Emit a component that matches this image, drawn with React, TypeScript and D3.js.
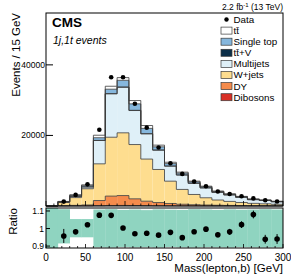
import * as d3 from 'd3';

// bin edges in GeV (15 GeV bins)
const edges = d3.range(0, 301, 15);

// stacked backgrounds, bottom to top
const dibosons = [0, 20, 30, 40, 100, 150, 160, 140, 110, 80, 60, 45, 35, 25, 20, 15, 12, 10, 8, 6];
const dy = [0, 80, 150, 250, 1450, 2650, 2800, 1900, 1250, 900, 650, 450, 330, 250, 190, 150, 120, 90, 75, 60];
const wjets = [0, 900, 2200, 4600, 10400, 16690, 17780, 15380, 11940, 9370, 6330, 4200, 2900, 2055, 1490, 1135, 868, 650, 537, 414];
const multijets = [0, 150, 350, 500, 6610, 12300, 12920, 9640, 7150, 5480, 4260, 4080, 3165, 2795, 2168, 1840, 1472, 1049, 935, 726];
const ttv = [0, 5, 10, 10, 40, 60, 70, 60, 50, 40, 30, 25, 20, 15, 12, 10, 8, 6, 5, 4];
const singleTop = [0, 60, 250, 350, 750, 1250, 1890, 1830, 1500, 900, 680, 500, 380, 300, 230, 190, 150, 120, 100, 80];
const ttbar = [0, 85, 210, 250, 710, 840, 760, 940, 810, 480, 390, 300, 220, 180, 140, 110, 90, 75, 60, 50];

const data = [0, 1245, 3140, 6130, 21590, 36490, 36500, 29000, 22200, 16600, 12130, 9100, 6920, 5600, 4100, 3385, 2780, 2160, 1615, 1260];
const ratioErr = [0, 0.04, 0.015, 0.01, 0.005, 0.004, 0.004, 0.005, 0.006, 0.007, 0.008, 0.01, 0.012, 0.013, 0.015, 0.017, 0.019, 0.022, 0.025, 0.028];

// systematic band in the ratio panel
const bandHi = [1.3, 1.11, 1.054, 1.054, 1.108, 1.11, 1.106, 1.108, 1.105, 1.109, 1.107, 1.106, 1.11, 1.108, 1.106, 1.109, 1.107, 1.108, 1.11, 1.108];
const bandLo = [0.7, 0.915, 0.95, 0.95, 0.893, 0.892, 0.895, 0.893, 0.894, 0.892, 0.895, 0.893, 0.892, 0.894, 0.893, 0.892, 0.894, 0.893, 0.892, 0.893];

const mainTicks = [20000, 40000];
const ratioTicks = [0.9, 1, 1.1];
const xTicks = [0, 50, 100, 150, 200, 250, 300];

const layers = [
    {name: 'Dibosons', values: dibosons, color: '#d93026'},
    {name: 'DY', values: dy, color: '#f58b4c'},
    {name: 'W+jets', values: wjets, color: '#fedd8f'},
    {name: 'Multijets', values: multijets, color: '#dff0f8'},
    {name: 'ttV', values: ttv, color: '#0b2e48'},
    {name: 'Single top', values: singleTop, color: '#86b7dd'},
    {name: 'tt', values: ttbar, color: '#ffffff'},
];

const font = '"Liberation Sans", Arial, sans-serif';

const TT = 't\u0074\u0304';

const App = () => {
    const W = 291, H = 278;
    const left = 46, right = 283;
    const mainTop = 13, mainBottom = 206;
    const ratioTop = 208, ratioBottom = 248;

    const x = d3.scaleLinear().domain([0, 300]).range([left, right]);
    const y = d3.scaleLinear().domain([0, 54700]).range([mainBottom, mainTop]);
    const yr = d3.scaleLinear().domain([0.889, 1.117]).range([ratioBottom, ratioTop]);

    const stack = d3.stack<number>()
        .keys(layers.map((_, k) => String(k)))
        .value((i, key) => layers[+key].values[i]);
    const series = stack(d3.range(edges.length - 1));

    const total = d3.range(edges.length - 1).map(i => d3.sum(layers, l => l.values[i]));

    const stepLine = d3.line<[number, number]>()
        .x(d => x(d[0]))
        .y(d => y(d[1]))
        .curve(d3.curveStepAfter);

    const minorX = d3.range(0, 301, 10);

    const legendItems = [
        {label: 'Data', color: null},
        {label: TT, color: '#ffffff'},
        {label: 'Single top', color: '#86b7dd'},
        {label: TT + '+V', color: '#0b2e48'},
        {label: 'Multijets', color: '#dff0f8'},
        {label: 'W+jets', color: '#fedd8f'},
        {label: 'DY', color: '#f58b4c'},
        {label: 'Dibosons', color: '#d93026'},
    ];

    return (
        <svg width={W} height={H} style={{position: 'absolute', left: 0, top: 0, background: '#fff'}} fontFamily={font}>
            <defs>
                <clipPath id="ratioClip">
                    <rect x={left} y={ratioTop} width={right - left} height={ratioBottom - ratioTop} />
                </clipPath>
            </defs>

            {/* stacked histograms */}
            {series.map((s, k) => (
                <g key={k}>
                    {s.map((d, i) => (
                        <rect key={i} x={x(edges[i])} width={x(edges[i + 1]) - x(edges[i])}
                              y={y(d[1])} height={Math.max(0, y(d[0]) - y(d[1]))}
                              fill={layers[k].color} stroke="none" />
                    ))}
                </g>
            ))}
            {series.map((s, k) => {
                const pts: [number, number][] = s.map((d, i) => [edges[i], d[1]] as [number, number]);
                pts.push([300, s[s.length - 1][1]]);
                return <path key={k} d={stepLine(pts) ?? ''} fill="none" stroke="#3a3a3a" strokeWidth={0.8} />;
            })}

            {/* data points */}
            {data.map((v, i) => v > 0 && (
                <circle key={i} cx={x((edges[i] + edges[i + 1]) / 2)} cy={y(v)} r={2.3} fill="#000" />
            ))}

            {/* main frame and ticks */}
            <rect x={left} y={mainTop} width={right - left} height={mainBottom - mainTop} fill="none" stroke="#000" strokeWidth={1} />
            {mainTicks.map(t => (
                <g key={t}>
                    <line x1={left} x2={left + 7} y1={y(t)} y2={y(t)} stroke="#000" />
                    <text x={left - 1} y={y(t)} dy="0.35em" textAnchor="end" fontSize={8.5}>{t}</text>
                </g>
            ))}
            {minorX.map(t => (
                <line key={t} x1={x(t)} x2={x(t)} y1={mainBottom} y2={mainBottom - (t % 50 === 0 ? 5 : 2.5)} stroke="#000" strokeWidth={0.8} />
            ))}

            {/* ratio panel */}
            <g clipPath="url(#ratioClip)">
                {bandHi.map((hi, i) => (
                    <rect key={i} x={x(edges[i])} width={x(edges[i + 1]) - x(edges[i]) + 0.3}
                          y={yr(hi)} height={yr(bandLo[i]) - yr(hi)} fill="#8fd4c0" />
                ))}
            </g>
            {data.map((v, i) => {
                if (v <= 0) return null;
                const r = v / total[i];
                const cx = x((edges[i] + edges[i + 1]) / 2);
                return (
                    <g key={i}>
                        <line x1={cx} x2={cx} y1={yr(r - ratioErr[i])} y2={yr(r + ratioErr[i])} stroke="#000" strokeWidth={1} />
                        <circle cx={cx} cy={yr(r)} r={2.8} fill="#000" />
                    </g>
                );
            })}
            <rect x={left} y={ratioTop} width={right - left} height={ratioBottom - ratioTop} fill="none" stroke="#000" strokeWidth={1} />
            {ratioTicks.map(t => (
                <g key={t}>
                    <line x1={left} x2={left + 4} y1={yr(t)} y2={yr(t)} stroke="#000" />
                    <text x={left - 2} y={yr(t)} dy="0.35em" textAnchor="end" fontSize={8.5}>{t}</text>
                </g>
            ))}
            {minorX.map(t => (
                <line key={t} x1={x(t)} x2={x(t)} y1={ratioBottom} y2={ratioBottom - (t % 50 === 0 ? 4 : 2)} stroke="#000" strokeWidth={0.8} />
            ))}
            {xTicks.map(t => (
                <text key={t} x={x(t)} y={261} textAnchor="middle" fontSize={10}>{t}</text>
            ))}

            {/* axis titles */}
            <text x={right} y={272} textAnchor="end" fontSize={11.5}>Mass(lepton,b) [GeV]</text>
            <text transform={`translate(20,${mainTop}) rotate(-90)`} textAnchor="end" fontSize={11.5}>Events / 15 GeV</text>
            <text transform={`translate(17,${ratioTop}) rotate(-90)`} textAnchor="end" fontSize={11.5}>Ratio</text>

            {/* labels */}
            <text x={52} y={27} fontSize={13.5} fontWeight="bold">CMS</text>
            <text x={53} y={43.5} fontSize={10.5} fontStyle="italic">1j,1t events</text>
            <text x={right} y={10} textAnchor="end" fontSize={8.5}>
                2.2 fb<tspan fontSize={6} dy={-3}>-1</tspan><tspan dy={3}> (13 TeV)</tspan>
            </text>

            {/* legend */}
            {legendItems.map((item, i) => {
                const cy = 19.5 + i * 11.1;
                return (
                    <g key={i}>
                        {item.color === null
                            ? <circle cx={226.5} cy={cy} r={2.2} fill="#000" />
                            : <rect x={221} y={cy - 3.5} width={11} height={7} fill={item.color} stroke="#3a3a3a" strokeWidth={0.7} />}
                        <text x={233.5} y={cy} dy="0.35em" fontSize={9.8}>{item.label}</text>
                    </g>
                );
            })}
        </svg>
    );
};

export default App;
